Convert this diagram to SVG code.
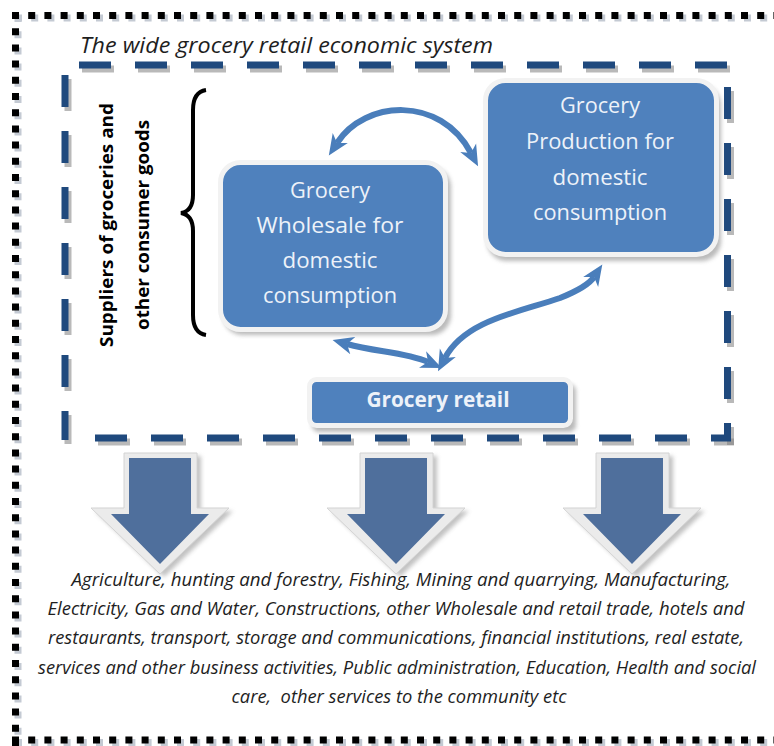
<svg xmlns="http://www.w3.org/2000/svg" width="774" height="746" viewBox="0 0 774 746">
<defs>
<style>
.dot{fill:none;stroke:#000;stroke-width:7;stroke-dasharray:7 9.2}
.dotsh{fill:none;stroke:#8a96a8;stroke-width:7;stroke-dasharray:7 9.2;opacity:.5}
.dash{fill:none;stroke:#1f497d;stroke-width:7;stroke-dasharray:32 24}
.dashsh{fill:none;stroke:#7f7f7f;stroke-width:7;stroke-dasharray:32 24;opacity:.55}
.box{fill:#4f81bd;stroke:#f2f2f2;stroke-width:5}
.boxsh{fill:#8c8c8c;opacity:.6}
.bt{font-family:"Open Sans","Noto Sans",sans-serif;font-size:21px;fill:#edf2f9;text-anchor:middle}
.conn{fill:none;stroke:#4a7ebb;stroke-width:6;marker-start:url(#ah);marker-end:url(#ah)}
.big{fill:#4f6f9c}
.bigl{fill:#ebebeb;stroke:#d4d4d4;stroke-width:1}
.bigsh{fill:#9a9a9a;opacity:.6}
.it{font-family:"Open Sans","Noto Sans",sans-serif;font-style:italic;fill:#1e1e1e}
</style>
<filter id="blur" x="-20%" y="-20%" width="140%" height="140%"><feGaussianBlur stdDeviation="2"/></filter>
<marker id="ah" markerUnits="userSpaceOnUse" markerWidth="22" markerHeight="20" viewBox="0 0 22 20" refX="6" refY="10" orient="auto-start-reverse">
<path d="M0,1 L21,10 L0,19 L6,10 Z" fill="#4a7ebb"/>
</marker>
<polygon id="bigarrow" points="-31,458 31,458 31,514 49,514 0,564 -49,514 -31,514"/>
<polygon id="bigframe" points="-36,453 37,453 37,508 69,508 0,574 -69,508 -36,508"/>
</defs>

<!-- outer dotted frame -->
<g id="outer-frame">
<path class="dotsh" d="M15,18 H780 M18,15 V746 M15,742.5 H780"/>
<path class="dot" d="M12,15.5 H780 M15.5,12 V746 M12,740 H780"/>
</g>

<!-- inner dashed frame -->
<g id="inner-frame">
<g transform="translate(3,4)">
<path class="dashsh" d="M79,65 H730"/>
<path class="dashsh" d="M65,75 V440"/>
<path class="dashsh" d="M95,438 H731"/>
<path class="dashsh" d="M727.5,87 V441"/>
</g>
<path class="dash" d="M79,65 H730"/>
<path class="dash" d="M65,75 V440"/>
<path class="dash" d="M95,438 H731"/>
<path class="dash" d="M727.5,87 V441"/>
</g>

<g id="title">
<text class="it" x="80" y="53" font-size="21" textLength="413" lengthAdjust="spacingAndGlyphs">The wide grocery retail economic system</text>
</g>

<g id="suppliers-label">
<text transform="translate(113,225) rotate(-90)" text-anchor="middle" font-family="'Open Sans','Noto Sans',sans-serif" font-weight="bold" font-size="18" fill="#000" textLength="244" lengthAdjust="spacingAndGlyphs">Suppliers of groceries and</text>
<text transform="translate(149,225) rotate(-90)" text-anchor="middle" font-family="'Open Sans','Noto Sans',sans-serif" font-weight="bold" font-size="18" fill="#000" textLength="210" lengthAdjust="spacingAndGlyphs">other consumer goods</text>
<path d="M206,90 Q193,92 193,110 L193,195 Q193,211 181,213 Q193,215 193,231 L193,315 Q193,333 206,335" fill="none" stroke="#000" stroke-width="4"/>
</g>

<g id="wholesale">
<rect class="boxsh" x="223" y="167" width="228" height="168" rx="20" filter="url(#blur)"/>
<rect class="box" x="220.5" y="162.5" width="225" height="167" rx="20"/>
<text class="bt" x="330" y="198" textLength="80" lengthAdjust="spacingAndGlyphs">Grocery</text>
<text class="bt" x="330" y="233" textLength="147" lengthAdjust="spacingAndGlyphs">Wholesale for</text>
<text class="bt" x="330" y="268" textLength="95" lengthAdjust="spacingAndGlyphs">domestic</text>
<text class="bt" x="330" y="303" textLength="134" lengthAdjust="spacingAndGlyphs">consumption</text>
</g>

<g id="production">
<rect class="boxsh" x="487" y="85" width="234" height="176" rx="20" filter="url(#blur)"/>
<rect class="box" x="485.5" y="80.5" width="231" height="174" rx="20"/>
<text class="bt" x="600" y="113" textLength="80" lengthAdjust="spacingAndGlyphs">Grocery</text>
<text class="bt" x="600" y="149" textLength="148" lengthAdjust="spacingAndGlyphs">Production for</text>
<text class="bt" x="600" y="185" textLength="95" lengthAdjust="spacingAndGlyphs">domestic</text>
<text class="bt" x="600" y="220" textLength="134" lengthAdjust="spacingAndGlyphs">consumption</text>
</g>

<g id="retail">
<rect class="boxsh" x="312" y="384" width="264" height="48" rx="7" filter="url(#blur)"/>
<rect class="box" x="309.5" y="379.5" width="261" height="46" rx="7"/>
<text class="bt" x="438" y="407" font-weight="bold" font-size="19" textLength="143" lengthAdjust="spacingAndGlyphs">Grocery retail</text>
</g>

<g id="connectors">
<path class="conn" d="M337,143 C365,100 440,95 471,153"/>
<path class="conn" d="M347,344 C375,352 405,352 428,362"/>
<path class="conn" d="M445,358 C465,320 520,312 560,298 C580,290 590,283 594,277"/>
</g>

<g id="down-arrows">
<g transform="translate(160,0)">
<use href="#bigframe" class="bigsh" transform="translate(4,3)" filter="url(#blur)"/>
<use href="#bigframe" class="bigl"/>
<use href="#bigarrow" class="big"/>
</g>
<g transform="translate(396,0)">
<use href="#bigframe" class="bigsh" transform="translate(4,3)" filter="url(#blur)"/>
<use href="#bigframe" class="bigl"/>
<use href="#bigarrow" class="big"/>
</g>
<g transform="translate(632,0)">
<use href="#bigframe" class="bigsh" transform="translate(4,3)" filter="url(#blur)"/>
<use href="#bigframe" class="bigl"/>
<use href="#bigarrow" class="big"/>
</g>
</g>

<g id="sectors" font-size="18" text-anchor="middle">
<text class="it" x="401" y="586" textLength="659" lengthAdjust="spacingAndGlyphs">Agriculture, hunting and forestry, Fishing, Mining and quarrying, Manufacturing,</text>
<text class="it" x="396" y="615" textLength="697" lengthAdjust="spacingAndGlyphs">Electricity, Gas and Water, Constructions, other Wholesale and retail trade, hotels and</text>
<text class="it" x="396" y="644" textLength="696" lengthAdjust="spacingAndGlyphs">restaurants, transport, storage and communications, financial institutions, real estate,</text>
<text class="it" x="397" y="674" textLength="718" lengthAdjust="spacingAndGlyphs">services and other business activities, Public administration, Education, Health and social</text>
<text class="it" x="399" y="703" textLength="335" lengthAdjust="spacingAndGlyphs" xml:space="preserve">care,  other services to the community etc</text>
</g>
</svg>
